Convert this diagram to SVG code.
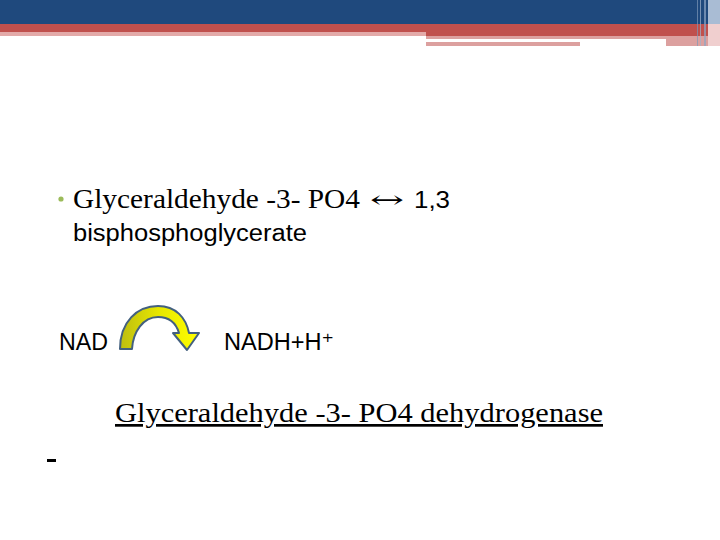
<svg xmlns="http://www.w3.org/2000/svg" width="720" height="540" viewBox="0 0 720 540">
<style>
.serif{font-family:"Liberation Serif","DejaVu Serif",serif;fill:#000}
.sans{font-family:"Liberation Sans","DejaVu Sans",sans-serif;fill:#000}
</style>
<defs>
<linearGradient id="yel" x1="0" y1="0" x2="1" y2="0">
<stop offset="0" stop-color="#BDBD10"/>
<stop offset="0.5" stop-color="#E8E800"/>
<stop offset="1" stop-color="#FFFF00"/>
</linearGradient>
</defs>
<rect width="720" height="540" fill="#FFFFFF"/>
<g id="banner">
<rect x="0" y="0" width="720" height="24" fill="#1F497D"/>
<rect x="0" y="24" width="720" height="8" fill="#C0504D"/>
<rect x="0" y="32" width="426" height="4" fill="#E3AAA9"/>
<rect x="426" y="32" width="294" height="4" fill="#C0504D"/>
<rect x="426" y="36" width="282" height="3" fill="#DCA09F"/>
<rect x="426" y="42" width="154" height="4" fill="#DCA09F"/>
<rect x="666" y="39" width="42" height="7" fill="#DCA09F"/>
<rect x="708" y="0" width="12" height="24" fill="#A9BCD4"/>
<rect x="708" y="24" width="12" height="22" fill="#F0CFCF"/>
<rect x="697" y="0" width="1" height="46" fill="#7F98B8" opacity="0.7"/>
<rect x="700" y="0" width="1" height="46" fill="#9FB3CC" opacity="0.7"/>
<rect x="704" y="0" width="2" height="46" fill="#8EA6C4" opacity="0.7"/>
</g>
<g id="reaction">
<circle cx="61" cy="199" r="2.6" fill="#9BBB59"/>
<text class="serif" x="73" y="208" font-size="28" textLength="287" lengthAdjust="spacingAndGlyphs">Glyceraldehyde -3- PO4</text>
<text x="370" y="208" font-size="24" font-family="'DejaVu Serif',serif" textLength="34" lengthAdjust="spacingAndGlyphs">↔</text>
<text class="sans" x="414" y="208" font-size="24" textLength="36" lengthAdjust="spacingAndGlyphs">1,3</text>
<text class="sans" x="73" y="241" font-size="23" textLength="234" lengthAdjust="spacingAndGlyphs">bisphosphoglycerate</text>
</g>
<g id="nad">
<text class="sans" x="59" y="350" font-size="23" textLength="49" lengthAdjust="spacingAndGlyphs">NAD</text>
</g>
<g id="nadh">
<text class="sans" x="224" y="350" font-size="23" textLength="110" lengthAdjust="spacingAndGlyphs">NADH+H⁺</text>
</g>
<g id="connectors">
<path d="M 120 349 C 120 322, 137 306, 158 306 C 176 306, 186 318, 189 333 L 199 333 L 187 350 L 173 333 L 179 333 C 176 323, 169 317, 158 317 C 143 317, 133 332, 132 349 Z" fill="url(#yel)" stroke="#43607F" stroke-width="2" stroke-linejoin="round"/>
</g>
<g id="enzyme">
<text class="serif" x="115" y="422" font-size="27" text-decoration="underline" textLength="488" lengthAdjust="spacingAndGlyphs">Glyceraldehyde -3- PO4 dehydrogenase</text>
</g>
<rect x="47" y="459" width="9" height="3" fill="#000"/>
</svg>
